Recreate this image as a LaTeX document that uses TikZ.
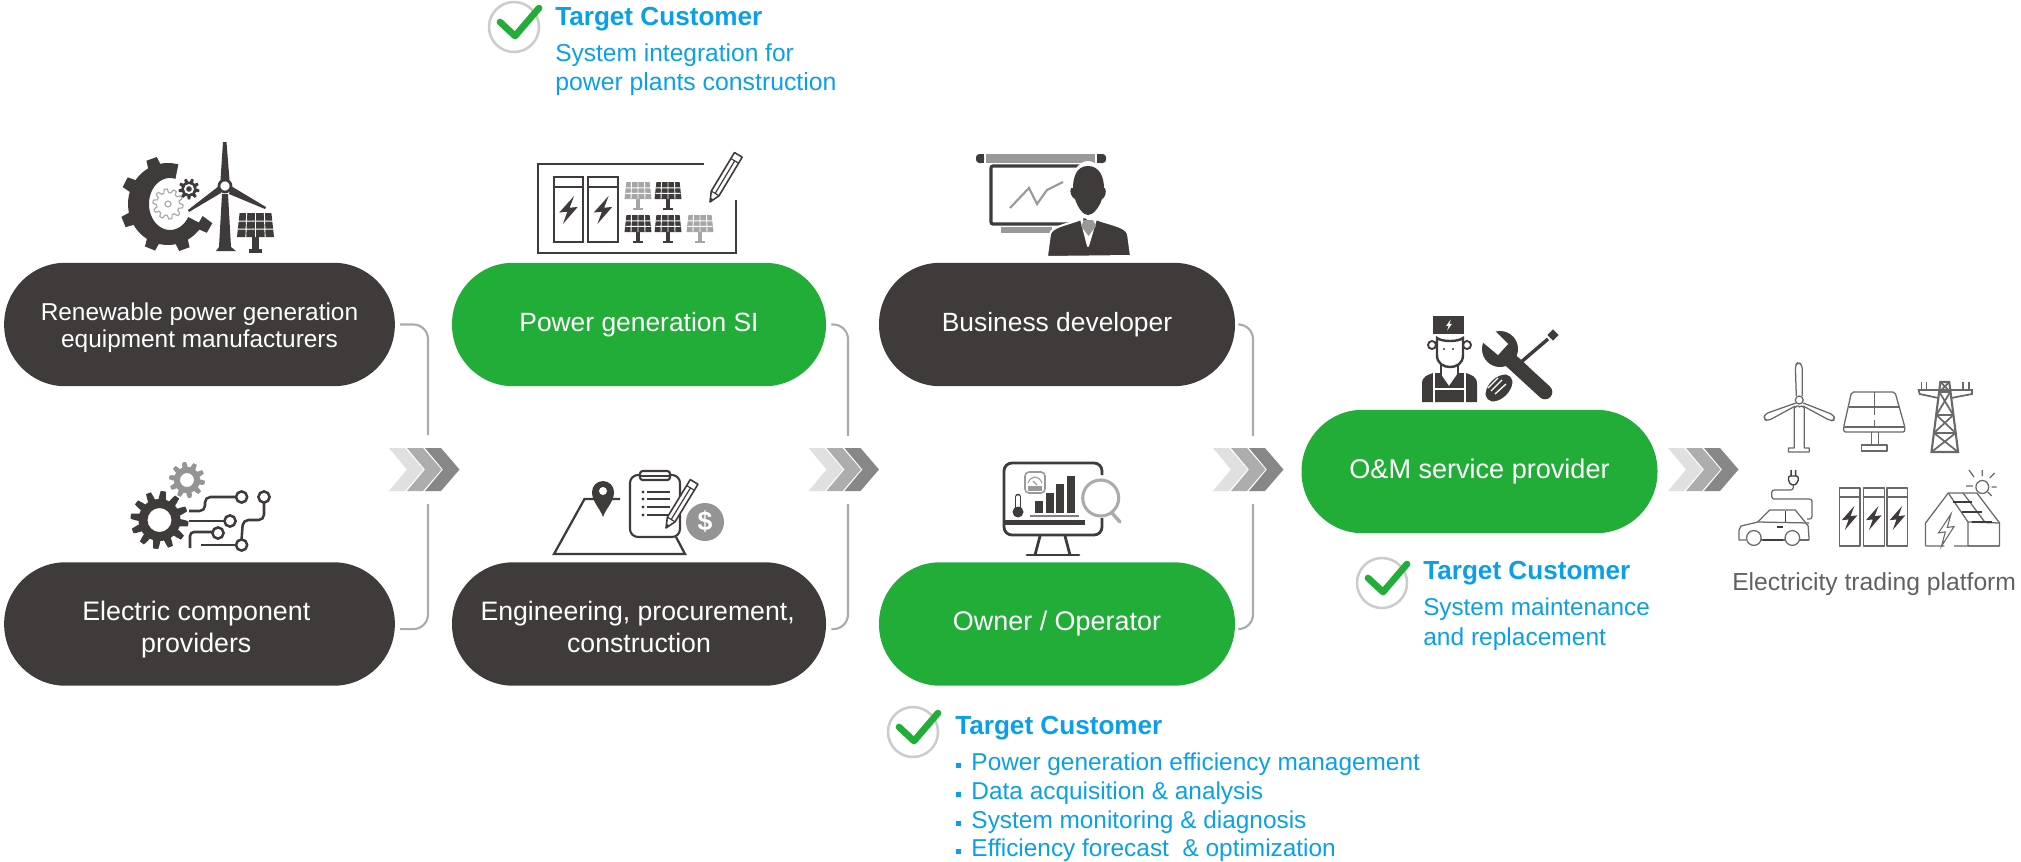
\documentclass[tikz,border=0pt]{standalone}
\usepackage{fontspec}
\setmainfont{Liberation Sans}
\usetikzlibrary{calc}
\definecolor{dk}{HTML}{3F3B3A}
\definecolor{gn}{HTML}{22AD39}
\definecolor{bl}{HTML}{0AA0E9}
\definecolor{lg}{HTML}{ABABAB}
\definecolor{ic}{HTML}{6A6868}
\tikzset{
 pill/.style={rectangle,rounded corners=46pt,minimum height=92.6pt,inner sep=0pt,text=white,align=center,font=\fontsize{19.8}{24}\selectfont},
 dkpill/.style={pill,fill=dk},
 gnpill/.style={pill,fill=gn},
 conn/.style={draw=lg,line width=1.6pt,rounded corners=11pt},
 title/.style={anchor=base west,inner sep=0pt,text=bl,font=\fontsize{19.6}{22}\selectfont\bfseries},
 body/.style={anchor=base west,inner sep=0pt,text=bl,font=\fontsize{18.4}{22}\selectfont},
 bull/.style={anchor=base west,inner sep=0pt,text=bl,font=\fontsize{18.3}{22}\selectfont},
 ring/.style={draw=black!20,line width=1.9pt,fill=white},
 tick/.style={draw=gn,line width=5pt,line cap=round,line join=round},
 thin/.style={draw=ic,line width=.95pt,line join=round},
 mid/.style={draw=dk,line width=1.9pt,line join=round},
}
\newcommand\chev[3]{\fill[#3] ($(#1)+(#2,-21.5)$) -- ++(16,0) -- ++(18.5,21.5) -- ++(-18.5,21.5) -- ++(-16,0) -- ++(18,-21.5) -- cycle;}
\newcommand\chevrons[1]{\chev{#1}{0}{black!12}\chev{#1}{18}{black!32}\chev{#1}{36}{black!47}}
\newcommand\gearp[3]{plot[domain=0:360,samples={#3*12+1}] (\x:{#2+(#1-#2)*max(0,min(1,0.5+1.6*sin(#3*\x)))})}
\newcommand\boltp{(.4,-1) -- (-.66,.18) -- (-.08,.12) -- (-.4,1) -- (.66,-.22) -- (.08,-.16) -- cycle}
\newcommand\bolt[4]{\fill[#4,shift={(#1,#2)},xscale=#3,yscale=#3] \boltp;}
\newcommand\solar[5]{\begin{scope}[shift={(#1,#2)},xscale=#3,yscale=#4]
 \fill[#5] (-.43,0) -- (.43,0) -- (.5,1) -- (-.5,1) -- cycle;
 \fill[#5] (-.09,1) rectangle (.09,1.6); \fill[#5] (-.17,1.5) rectangle (.17,1.65);
 \draw[white,line width=.7pt] (-.47,.34) -- (.47,.34) (-.47,.67) -- (.47,.67) (-.24,0) -- (-.26,1) (0,0) -- (0,1) (.24,0) -- (.26,1);
 \end{scope}}
\newcommand\pencilic[5]{\begin{scope}[shift={(#1,#2)},rotate=#3]
 \filldraw[fill=white,draw=dk,line width=1.2pt,line join=round] (0,0) -- (10,-#5) -- (#4,-#5) -- (#4,#5) -- (10,#5) -- cycle;
 \fill[dk] (0,0) -- (4,-1.8) -- (4,1.8) -- cycle;
 \draw[dk,line width=.9pt] (10,-#5) -- (10,#5) (#4-7,-#5) -- (#4-7,#5) (10,0) -- (#4-7,0);
 \end{scope}}
\newcommand\sq{\rule[1.5pt]{3.6pt}{3.6pt}\hspace{7.8pt}}
\begin{document}
\begin{tikzpicture}[x=0.75pt,y=-0.75pt]
\useasboundingbox (0,0) rectangle (2021,861);
% ---- pills
\node[dkpill,minimum width=293pt,font=\fontsize{18.3}{20.3}\selectfont] (p1) at (199.5,324.5) {\rule{0pt}{18pt}Renewable power generation\\equipment manufacturers};
\node[dkpill,minimum width=293pt,font=\fontsize{20.1}{24}\selectfont] (p2) at (199.5,624) {\rule{0pt}{22.2pt}Electric component\hspace*{4.8pt}\\providers\hspace*{4.8pt}};
\node[gnpill,minimum width=280.5pt] (p3) at (639,324.5) {Power generation SI};
\node[dkpill,minimum width=280.5pt,font=\fontsize{20}{24}\selectfont] (p4) at (639,624) {\rule{0pt}{18.3pt}Engineering, procurement,\hspace*{2pt}\\construction};
\node[dkpill,minimum width=267pt] (p5) at (1057,324.5) {Business developer};
\node[gnpill,minimum width=267pt,font=\fontsize{20.2}{24}\selectfont] (p6) at (1057,624) {Owner / Operator};
\node[gnpill,minimum width=267pt,font=\fontsize{20.3}{24}\selectfont] (p7) at (1479.5,471.5) {O\&M service provider};
% ---- connectors
\coordinate (a1) at (428,435); \coordinate (a2) at (428,504);
\coordinate (b1) at (848,436); \coordinate (b2) at (848,504);
\coordinate (c1) at (1253,436); \coordinate (c2) at (1253,504);
\draw[conn] ([xshift=3.75pt]p1.east) -| (a1);
\draw[conn] ([xshift=3.75pt,yshift=-3.8pt]p2.east) -| (a2);
\draw[conn] ([xshift=3.75pt]p3.east) -| (b1);
\draw[conn] ([xshift=3.75pt,yshift=-3.8pt]p4.east) -| (b2);
\draw[conn] ([xshift=3.75pt]p5.east) -| (c1);
\draw[conn] ([xshift=3.75pt,yshift=-3.8pt]p6.east) -| (c2);
% ---- chevrons
\coordinate (s1) at (389,469.5); \coordinate (s2) at (808.5,469.5);
\coordinate (s3) at (1213,469.5); \coordinate (s4) at (1668,469.5);
\chevrons{s1}\chevrons{s2}\chevrons{s3}\chevrons{s4}
% ---- icon: gear + turbine
\fill[dk] plot[domain=-330:-75,samples=50] ({168+40*cos(\x)},{204+41*sin(\x)}) -- plot[domain=-75:-330,samples=50] ({170+21*cos(\x)},{204+26*sin(\x)}) -- cycle;
\foreach \a in {110,153,202,248,290,330}{\fill[dk,rotate around={\a:(168,204)}] (204,197) -- (216,198.5) -- (216,209.5) -- (204,211) -- cycle;}
\begin{scope}[shift={(168,204)}]\draw[lg,line width=.9pt,fill=white] \gearp{15}{11.5}{10} -- cycle; \draw[lg,line width=.9pt] (0,0) circle (3);\end{scope}
\begin{scope}[shift={(189,189)}]\fill[dk] \gearp{10.5}{7.5}{9} -- cycle; \fill[white] (0,0) circle (5); \fill[dk] (0,0) circle (2.8);\end{scope}
\fill[dk] (223,142) -- (226.5,142) -- (229.5,180) -- (220.5,180) -- cycle;
\fill[dk] (219,186) -- (188,210) -- (189,212) -- (221,193) -- cycle;
\fill[dk] (231,186) -- (266,207) -- (265,209) -- (229,194) -- cycle;
\fill[dk] (222,194) -- (228,194) -- (231,247) -- (236,251) -- (216,251) -- (219,247) -- cycle;
\draw[dk,line width=2pt,fill=white] (225,186) circle (6);
\solar{255.5}{213}{37}{24}{dk}
% ---- icon: plan
\draw[dk,line width=1.8pt] (704,164) -- (538,164) -- (538,253) -- (736,253) -- (736,200);
\foreach \a/\b in {554/583,588/618}{\draw[dk,line width=1.7pt] (\a,177) rectangle (\b,242); \draw[dk,line width=1.4pt] (\a,187) -- (\b,187);}
\bolt{568.5}{210}{14}{dk}\bolt{603}{210}{14}{dk}
\solar{638}{182}{27}{17}{black!35}\solar{668}{182}{27}{17}{dk}
\solar{638}{215}{27}{17}{dk}\solar{668}{215}{27}{17}{dk}\solar{700}{215}{27}{17}{black!35}
\pencilic{710}{202}{59}{55}{4.5}
% ---- icon: components
\begin{scope}[shift={(159.5,520)}]\fill[dk,even odd rule] \gearp{29}{21}{12} -- cycle (0,0) circle (12);\end{scope}
\begin{scope}[shift={(187,480)}]\fill[black!42,even odd rule] \gearp{18}{13}{10} -- cycle (0,0) circle (7);\end{scope}
\draw[mid,rounded corners=4pt] (189,511) -- (205,511) -- (205,497) -- (235.5,497);
\draw[mid] (189,521) -- (224,521);
\draw[mid,rounded corners=3pt] (190,548) -- (190,532) -- (212,532);
\draw[mid] (200.5,545) -- (235.5,545);
\draw[mid,rounded corners=4pt] (264,503) -- (264,520) -- (243,520) -- (241.6,539);
\foreach \a/\b in {241.6/497,230/521,218/533,241.6/545,264/497}{\draw[mid,fill=white] (\a,\b) circle (5.6);}
% ---- icon: EPC
\draw[dk,line width=1.7pt,line join=miter] (620,499) -- (584.5,499) -- (554,554) -- (685,554) -- (676,537);
\fill[dk] (603,517) .. controls (600,508) and (592,502) .. (592,492) arc[start angle=180,end angle=360,radius=11] .. controls (614,502) and (606,508) .. (603,517) -- cycle;
\fill[white] (603,491) circle (4);
\draw[dk,line width=1.6pt,fill=white,rounded corners=6pt] (630,475) rectangle (680,537);
\draw[dk,line width=1.6pt,fill=white,rounded corners=2pt] (640,471) rectangle (670,480);
\draw[dk,line width=1.4pt] (641,476) -- (669,476);
\foreach \y in {492,499,507,515}{\fill[dk] (643,\y) circle (1.6); \draw[dk,line width=1.4pt] (647,\y) -- (670,\y);}
\fill[black!42] (705,522) circle (19);
\node[text=white,font=\fontsize{20}{20}\selectfont\bfseries,inner sep=0pt] (dollar) at (705,522) {\$};
\pencilic{666}{528}{58.6}{54}{4.5}
% ---- icon: presenter
\fill[black!40] (986,154) rectangle (1095,163);
\fill[dk,rounded corners=2.5pt] (976,154) rectangle (984,163); \fill[dk] (981,154) rectangle (984,163);
\fill[dk,rounded corners=2.5pt] (1097,154) rectangle (1106,163); \fill[dk] (1097,154) rectangle (1100,163);
\draw[dk,line width=2.4pt,rounded corners=1.5pt] (991,166) rectangle (1085,224);
\fill[black!40] (1001,227) rectangle (1052,233);
\draw[black!40,line width=1.6pt] (1010,208) -- (1029,188) -- (1037,204) -- (1047,190) -- (1063,182);
\fill[white] (1088,190) ellipse (18 and 29);
\filldraw[fill=dk,draw=white,line width=1.5pt,line join=round] (1046,257) -- (1047,256) -- (1050,234) .. controls (1052,226) and (1070,224) .. (1081,219) -- (1088,246) -- (1096,219) .. controls (1108,224) and (1126,226) .. (1128,234) -- (1131,256) -- cycle;
\fill[white] (1046,257) rectangle (1132,259);
\fill[black!40] (1084,220) -- (1093,220) -- (1096,226) -- (1088.5,236) -- (1081,226) -- cycle;
\fill[dk] (1088,166) .. controls (1076,166) and (1073,178) .. (1073,188) -- (1071,188) .. controls (1069,192) and (1072,198) .. (1075,199) .. controls (1078,208) and (1083,215) .. (1088,215) .. controls (1093,215) and (1099,208) .. (1102,199) .. controls (1105,198) and (1107,192) .. (1105,188) -- (1104,188) .. controls (1104,178) and (1100,166) .. (1088,166) -- cycle;
% ---- icon: monitor
\draw[dk,line width=2.1pt,rounded corners=6pt] (1102,475) -- (1102,463) -- (1004,463) -- (1004,535) -- (1102,535) -- (1102,518);
\fill[dk] (1004,520) rectangle (1085,524.5);
\draw[dk,line width=2.1pt] (1040,536) -- (1035,555) (1065,536) -- (1070,555);
\draw[dk,line width=2.1pt,line cap=round] (1027,555) -- (1079,555);
\foreach \a/\t in {1035/501,1046/493,1056/484,1067/476}{\fill[dk] (\a,\t) rectangle ++(8,513-\t);}
\draw[black!50,line width=1.2pt] (1030,516) -- (1079,516);
\draw[black!40,line width=1.2pt,rounded corners=3pt] (1025,472) rectangle (1045,493);
\draw[black!40,line width=.8pt] (1028,483) .. controls (1031,475) and (1039,475) .. (1042,483) (1033,481) -- (1037,485);
\fill[black!40] (1028,486) rectangle (1042,491);
\draw[dk,line width=5pt,line cap=round] (1018,497) -- (1018,511);
\draw[white,line width=2.4pt,line cap=round] (1018,497) -- (1018,507);
\fill[dk] (1018,512) circle (5.5);
\draw[lg,line width=2.3pt,fill=white] (1100.7,498) circle (18);
\draw[lg,line width=2.6pt,line cap=round] (1112,513) -- (1120,522);
% ---- icon: worker + tools
\fill[dk] (1433,316) rectangle (1464,334);
\fill[white,shift={(1449,325)},xscale=4.5,yscale=5.5] \boltp;
\draw[dk,line width=1.4pt,fill=white] (1432,345) circle (4) (1467,345) circle (4);
\filldraw[fill=white,draw=dk,line width=1.8pt] (1437,338) -- (1437,355) .. controls (1437,364) and (1444,367) .. (1450,367) .. controls (1456,367) and (1463,364) .. (1463,355) -- (1463,338) .. controls (1458,342) and (1442,342) .. (1437,338) -- cycle;
\fill[dk] (1444,349) circle (1.2) (1453,349) circle (1.2);
\draw[dk,line width=1.6pt] (1441,365) -- (1441,378) (1458,365) -- (1458,378);
\fill[dk] (1422,402) -- (1422,384) .. controls (1422,376) and (1428,375) .. (1433,373) -- (1440,373) -- (1449,386) -- (1458,373) -- (1466,373) .. controls (1471,375) and (1477,376) .. (1477,384) -- (1477,402) -- cycle;
\draw[white,line width=1.2pt] (1434,372) -- (1434,389) -- (1465,389) -- (1465,372) (1434,389) -- (1434,403) (1465,389) -- (1465,403);
\fill[dk] (1500,349) circle (18);
\fill[white] (1480,340) -- (1498,355) -- (1508,344) -- (1492,328) -- cycle;
\draw[dk,line width=11pt,line cap=round] (1508,358) -- (1545,392);
\fill[dk,rotate around={-42:(1519,365)}] (1510,360) rectangle (1528,370);
\draw[dk,line width=2.6pt] (1520,363) -- (1548,339);
\fill[dk,rotate around={45:(1553,335)}] (1549,331) rectangle (1557,339);
\filldraw[fill=dk,draw=white,line width=1.3pt,rotate around={45:(1499,388)}] (1499,388) ellipse (17 and 11);
\draw[white,line width=1pt] (1491,391) -- (1502,380) (1495,394) -- (1506,384) (1488,388) -- (1498,378);
% ---- icon: platform
\begin{scope}[shift={(1670,0)},xscale=0.9867,shift={(-1670,0)}]
\draw[thin,rounded corners=2.5pt] (1798,396) -- (1797,365) -- (1800,362) -- (1804,365) -- (1804,396) ;
\draw[thin,rounded corners=2.5pt] (1797.5,403) -- (1766,414) -- (1765,419) -- (1769,421) -- (1797,406);
\draw[thin,rounded corners=2.5pt] (1805,403) -- (1836,415) -- (1837,420) -- (1833,421) -- (1805,406);
\draw[thin] (1801,400) circle (4);
\draw[thin] (1796,448) -- (1796,408) .. controls (1797,406) and (1801,405) .. (1801,407) .. controls (1802,405) and (1805,406) .. (1806,408) -- (1806,448) (1796,448) -- (1790,448) -- (1790,452) -- (1811,452) -- (1811,448) -- (1806,448);
\draw[thin,rounded corners=1.5pt] (1854,392) -- (1898,392) -- (1908,427) -- (1908,432) -- (1846,432) -- (1846,427) -- cycle;
\draw[thin] (1846,427) -- (1908,427) (1877,392) -- (1877,415) (1877,420) -- (1877,427) (1851,407) -- (1903,407);
\draw[thin] (1874,432) -- (1874,445) -- (1864,445) -- (1864,451) -- (1890,451) -- (1890,445) -- (1881,445) -- (1881,432) (1881,445) -- (1874,445);
\draw[ic,line width=1.6pt] (1944,382) -- (1953,382) -- (1962,452) -- (1935,452) -- cycle;
\draw[ic,line width=1.3pt] (1943,392) -- (1954,392) (1940,415) -- (1957,415) (1937.5,433) -- (1959.5,433);
\draw[ic,line width=1.3pt] (1944,382) -- (1954,392) (1953,382) -- (1943,392) (1943,392) -- (1957,415) (1954,392) -- (1940,415) (1940,415) -- (1959.5,433) (1957,415) -- (1937.5,433) (1937.5,433) -- (1962,452) (1959.5,433) -- (1935,452);
\draw[ic,line width=1.3pt] (1942,398) -- (1923,394) -- (1922,390) -- (1976,390) -- (1976,394) -- (1955,398);
\draw[ic,line width=1.1pt] (1925,382) -- (1925,390) (1930,382) -- (1930,390) (1967,382) -- (1967,390) (1973,382) -- (1973,390);
\draw[thin] (1811,540) -- (1810,526) -- (1797,510) -- (1771,510) -- (1759,522) -- (1742,526) -- (1740,530) -- (1740,540) -- (1747,540);
\draw[thin] (1762,540) -- (1787,540) (1801,540) -- (1811,540);
\draw[dk,line width=1.2pt] (1764,540) -- (1785,540);
\draw[thin] (1759,522) -- (1811,523);
\draw[dk,line width=1.1pt] (1787,511) -- (1787,522) (1778,527) -- (1784,527);
\draw[thin] (1755,538) circle (7.4) (1794,538) circle (7.4);
\draw[thin,rounded corners=2pt] (1795,485) -- (1795,490) -- (1773,490) -- (1773,499) -- (1814,499) -- (1814,519) -- (1809,519);
\draw[dk,line width=1pt,fill=white,rounded corners=1.5pt] (1790,476) -- (1800,476) -- (1800,482) -- (1795,486) -- (1790,482) -- cycle;
\fill[dk] (1792,470) rectangle (1793.5,476) (1796.5,470) rectangle (1798,476);
\foreach \a/\b in {1842/1862.5,1866/1887,1890/1911}{\draw[thin] (\a,488) rectangle (\b,546); \draw[thin] (\a,497) -- (\b,497);}
\bolt{1852}{518}{12}{dk}\bolt{1876.5}{518}{12}{dk}\bolt{1900.5}{518}{12}{dk}
\draw[thin] (1986.5,487) circle (6.5);
\draw[thin] (1986.5,470) -- (1986.5,476) (1973,470) -- (1978,477) (1999,473) -- (1994,478) (1970,486) -- (1977,486) (2001,487) -- (1996,487) (1996,496) -- (1992,492);
\filldraw[fill=white,draw=ic,line width=.95pt,line join=round] (1929,546) -- (1929,523) -- (1952,493) -- (1981,493) -- (2004,523) -- (2004,546) -- (1958,546);
\draw[thin] (1952,493) -- (1972,522) -- (1972,546) (1972,522) -- (2004,523) (1967,493) -- (1989,522) (2004,546) -- (1972,546) (1929,546) -- (1948,546);
\draw[dk,line width=1pt] (1957,502) -- (1976,502) (1966,512) -- (1986,512) (1976,522) -- (1996,522);
\begin{scope}[shift={(1950,530)},xscale=12,yscale=16]\draw[ic,line width=.8pt,fill=white] \boltp;\end{scope}
\end{scope}
% ---- target customer blocks
\draw[ring] (514,27) circle (25);
\draw[tick] (500,22) -- (515,36) -- (539,8);
\node[title] (t1) at (555,25) {Target Customer};
\node[body] (t1a) at (555,61) {System integration for};
\node[body,font=\fontsize{18.6}{22}\selectfont] (t1b) at (555,90.5) {power plants construction};
\draw[ring] (1382,583) circle (25);
\draw[tick] (1368,578) -- (1383,592) -- (1407,564);
\node[title] (t2) at (1423,579.5) {Target Customer};
\node[body,font=\fontsize{18.2}{22}\selectfont] (t2a) at (1423,615.5) {System maintenance};
\node[body] (t2b) at (1423,645) {and replacement};
\draw[ring] (913,732) circle (25);
\draw[tick] (899,727) -- (914,741) -- (938,713);
\node[title] (t3) at (955,734.5) {Target Customer};
\node[bull] (t3a) at (956,770) {\sq Power generation efficiency management};
\node[bull] (t3b) at (956,799) {\sq Data acquisition \& analysis};
\node[bull] (t3c) at (956,828) {\sq System monitoring \& diagnosis};
\node[bull] (t3d) at (956,856) {\sq Efficiency forecast\ \ \& optimization};
\node[anchor=base west,inner sep=0pt,text=black!62,font=\fontsize{18.5}{22}\selectfont] (t4) at (1732,590.5) {Electricity trading platform};
\end{tikzpicture}
\end{document}
